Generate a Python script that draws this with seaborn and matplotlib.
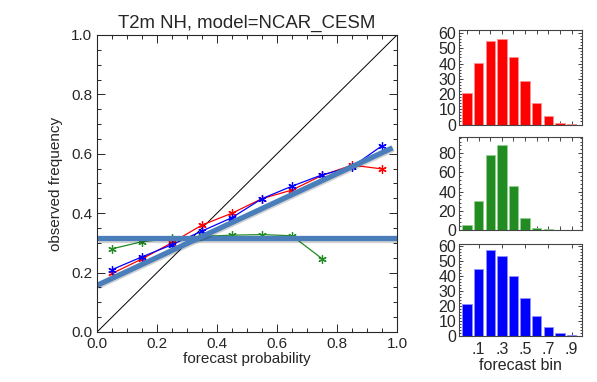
import numpy as np
import pandas as pd
import matplotlib
matplotlib.use('Agg')
import matplotlib.pyplot as plt
import matplotlib.patheffects as pe
from matplotlib.ticker import MultipleLocator
import seaborn as sns

# datos del diagrama de fiabilidad
prob = [0.05, 0.15, 0.25, 0.35, 0.45, 0.55, 0.65, 0.75, 0.85, 0.95]
obs_red = [0.197, 0.246, 0.301, 0.360, 0.400, 0.449, 0.478, 0.527, 0.562, 0.549]
obs_blue = [0.210, 0.253, 0.294, 0.340, 0.385, 0.449, 0.491, 0.529, 0.556, 0.627]
prob_green = [0.05, 0.15, 0.25, 0.35, 0.45, 0.55, 0.65, 0.75]
obs_green = [0.280, 0.304, 0.315, 0.322, 0.326, 0.328, 0.324, 0.247]

# rectas gruesas (ajuste y climatología)
fit_x = [0.0, 0.985]
fit_y = [0.157, 0.620]
clim_x = [0.0, 1.0]
clim_y = [0.315, 0.315]

# histogramas por bin de pronóstico
bins = ['0', '.1', '.2', '.3', '.4', '.5', '.6', '.7', '.8', '.9']
hist_red = [20.4, 40.2, 54.5, 55.8, 44.2, 28.6, 14.3, 5.5, 1.3, 0.3]
hist_green = [4.8, 30.3, 78.0, 88.3, 46.2, 12.8, 2.4, 0.7, 0.3, 0.2]
hist_blue = [21.7, 44.6, 57.4, 53.6, 40.1, 25.6, 13.2, 6.0, 2.2, 0.7]

sns.set_style('ticks')
plt.rcParams['font.family'] = ['Liberation Sans', 'DejaVu Sans']

fig = plt.figure(figsize=(5.97, 3.82), dpi=100)
ax = fig.add_axes([0.1625, 0.1309, 0.5025, 0.7775])

ax.plot([0, 1], [0, 1], color='black', lw=0.7)
ast = (6, 2, 0)
sns.lineplot(x=prob_green, y=obs_green, ax=ax, color='#228b22', lw=0.9, marker=ast, markersize=6,
             markeredgecolor='#228b22', markeredgewidth=0.9)
sns.lineplot(x=prob, y=obs_red, ax=ax, color='#ff0000', lw=0.9, marker=ast, markersize=6,
             markeredgecolor='#ff0000', markeredgewidth=0.9)
sns.lineplot(x=prob, y=obs_blue, ax=ax, color='#0000ff', lw=0.9, marker=ast, markersize=6,
             markeredgecolor='#0000ff', markeredgewidth=0.9)

shadow = [pe.SimpleLineShadow(offset=(0.7, -1.0), alpha=0.18), pe.Normal()]
ax.plot(clim_x, clim_y, color='#4a7ebb', lw=3.8, solid_capstyle='butt', path_effects=shadow)
ax.plot(fit_x, fit_y, color='#4a7ebb', lw=3.8, solid_capstyle='butt', path_effects=shadow)

ax.set_xlim(0, 1)
ax.set_ylim(0, 1)
ax.xaxis.set_major_locator(MultipleLocator(0.2))
ax.yaxis.set_major_locator(MultipleLocator(0.2))
ax.xaxis.set_minor_locator(MultipleLocator(0.05))
ax.yaxis.set_minor_locator(MultipleLocator(0.05))
ax.xaxis.set_major_formatter(matplotlib.ticker.FormatStrFormatter('%.1f'))
ax.yaxis.set_major_formatter(matplotlib.ticker.FormatStrFormatter('%.1f'))
ax.tick_params(which='both', direction='in', top=True, right=True, labelsize=11, width=0.7)
ax.tick_params(which='major', length=6)
ax.tick_params(which='minor', length=3)
for s in ax.spines.values():
    s.set_linewidth(0.8)
ax.set_xlabel('forecast probability', fontsize=11, labelpad=1)
ax.set_ylabel('observed frequency', fontsize=11, labelpad=6)
ax.set_title('T2m NH, model=NCAR_CESM', fontsize=13.4, pad=5)

# histogramas
panels = [
    ([0.7688, 0.674, 0.206, 0.2474], hist_red, '#ff0000', '#ff9090', 62, 10),
    ([0.7688, 0.398, 0.206, 0.2440], hist_green, '#228b22', '#90d090', 97, 20),
    ([0.7688, 0.1204, 0.206, 0.2410], hist_blue, '#0000ff', '#9090ff', 61.7, 10),
]
for i, (rect, vals, col, edge, top, step) in enumerate(panels):
    hx = fig.add_axes(rect)
    df = pd.DataFrame({'bin': bins, 'count': vals})
    sns.barplot(data=df, x='bin', y='count', ax=hx, color=col, saturation=1, width=0.8,
                edgecolor=edge, linewidth=0.6)
    hx.set_xlim(-0.69, 9.89)
    hx.set_ylim(0, top)
    hx.yaxis.set_major_locator(MultipleLocator(step))
    hx.yaxis.set_minor_locator(MultipleLocator(step / 5))
    hx.tick_params(which='both', direction='in', top=True, right=True, labelsize=11.5, width=0.6)
    hx.tick_params(which='major', length=3, pad=2)
    hx.tick_params(which='minor', length=1.5)
    hx.set_ylabel('')
    if i == 2:
        hx.set_xticks([1, 3, 5, 7, 9])
        hx.set_xticklabels(['.1', '.3', '.5', '.7', '.9'])
        hx.set_xlabel('forecast bin', fontsize=11.5, labelpad=1)
        hx.tick_params(axis='x', pad=4)
    else:
        hx.set_xticks(range(10))
        hx.set_xticklabels([])
        hx.set_xlabel('')
    fig.canvas.draw()
    # la etiqueta "0" queda desplazada hacia arriba, como en el original
    hx.get_yticklabels()[0].set_va('bottom') if hx.get_yticklabels()[0].get_text() in ('0', '−0') else None
    for s in hx.spines.values():
        s.set_linewidth(0.8)
        s.set_color('#444444')

fig.savefig('out.png', dpi=100)
